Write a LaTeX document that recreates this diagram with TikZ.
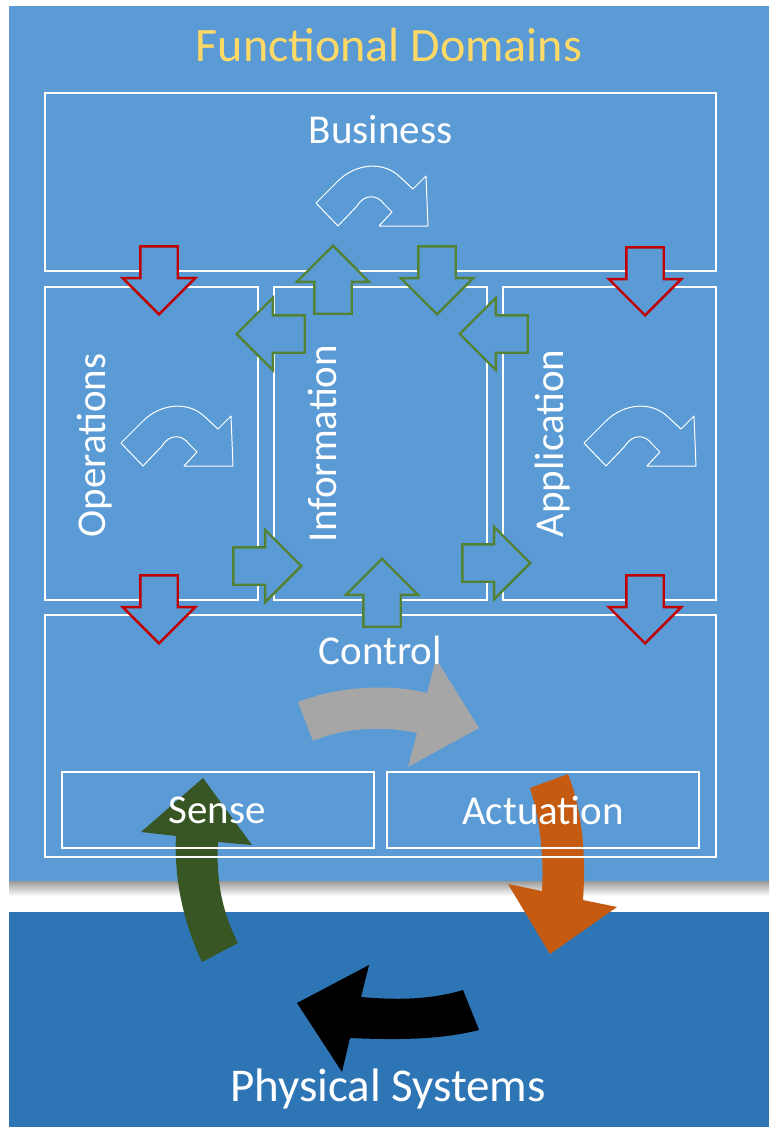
\documentclass[tikz,border=0pt]{standalone}
\usepackage{fontspec}
\setmainfont{Carlito}
\usepackage{tikz}
\usetikzlibrary{shapes.arrows,positioning}
\definecolor{domainBlue}{HTML}{5B9BD5}
\definecolor{physBlue}{HTML}{2E75B6}
\definecolor{titleGold}{HTML}{FFD966}
\definecolor{flowRed}{HTML}{C00000}
\definecolor{flowGreen}{HTML}{548235}
\definecolor{senseGreen}{HTML}{375623}
\definecolor{actOrange}{HTML}{C55A11}
\definecolor{ctrlGray}{HTML}{A6A6A6}

\tikzset{
  domainbox/.style={draw=white,line width=2pt,inner sep=0pt},
  domainlabel/.style={text=white,font=\fontsize{41}{49}\selectfont,inner sep=0pt},
  blockarrow/.style={single arrow,draw=#1,fill=domainBlue,line width=2.4pt,inner sep=0pt,
    text height=35pt,text depth=0pt,minimum height=68pt,single arrow head extend=17.5pt,anchor=tip},
  turn/.pic={
    \draw[white,line width=1pt,line join=round]
      (0,0) -- (22,-22) .. controls (40,-40) and (68,-42) .. (84,-26) -- (97,-14)
      -- (110,-27) -- (112,23) -- (63,23) -- (76,9) -- (68,1)
      .. controls (61,-9) and (48,-9) .. (41,3) -- (22,23) -- cycle;
  }
}

\begin{document}
\begin{tikzpicture}[x=1pt,y=-1pt]
  \useasboundingbox (0,0) rectangle (769,1127);

  % the two layers
  \fill[domainBlue] (9,6) rectangle (769,881);
  \shade[top color=black!40,bottom color=white] (9,881) rectangle (769,896);
  \fill[physBlue] (9,912) rectangle (769,1127);

  % loop between the physical systems and control
  \fill[senseGreen] (202,962) .. controls (182,920) and (174,875) .. (176,836) -- (141,832)
    -- (203,778) -- (252,845) -- (218,842) .. controls (216,880) and (222,912) .. (238,943) -- cycle;
  \fill[actOrange] (530,788) .. controls (540,820) and (544,855) .. (542,891) -- (508,884)
    -- (550,954) -- (617,907) -- (583,900) .. controls (586,858) and (583,812) .. (568,774) -- cycle;
  \fill[black] (463,990) .. controls (430,1000) and (395,1000) .. (361,997) -- (369,965)
    -- (297,1003) -- (342,1072) -- (350,1038) .. controls (395,1040) and (440,1040) .. (479,1030) -- cycle;
  \fill[ctrlGray] (298,702) .. controls (345,684) and (395,685) .. (427,693) -- (436,659)
    -- (479,728) -- (408,767) -- (417,733) .. controls (385,726) and (345,727) .. (313,741) -- cycle;

  \node[domainbox,minimum width=671pt,minimum height=178pt] (business) at (380.5,182) {};
  \node[domainbox,minimum width=213pt,minimum height=313pt] (operations) at (151.5,443.5) {};
  \node[domainbox,minimum width=213pt,minimum height=313pt] (information) at (380.5,443.5) {};
  \node[domainbox,minimum width=213pt,minimum height=313pt] (application) at (609.5,443.5) {};
  \node[domainbox,minimum width=671pt,minimum height=242pt] (control) at (380.5,736) {};
  \node[domainbox,minimum width=312pt,minimum height=76pt] (sense) at (218,810) {};
  \node[domainbox,minimum width=312pt,minimum height=76pt] (actuation) at (543,810) {};

  \node[text=titleGold,font=\fontsize{48}{58}\selectfont] (title) at (389,45) {Functional Domains};
  \node[domainlabel] (businesslbl) at ([yshift=-38pt]business.north) {Business};
  \node[domainlabel,rotate=90] (operationslbl) at ([xshift=-57pt,yshift=-2pt]operations.center) {Operations};
  \node[domainlabel,rotate=90] (informationlbl) at ([xshift=-58pt]information.center) {Information};
  \node[domainlabel,rotate=90] (applicationlbl) at ([xshift=-57pt]application.center) {Application};
  \node[domainlabel] (controllbl) at ([yshift=-36pt]control.north) {Control};
  \node[domainlabel] (senselbl) at ([xshift=-1pt]sense) {Sense};
  \node[domainlabel] (actuationlbl) at (actuation) {Actuation};
  \node[text=white,font=\fontsize{47}{56}\selectfont] (physical) at (388,1089) {Physical Systems};

  % flows between the domains, placed by their tips
  \node[blockarrow=flowRed,rotate=-90] (bizops) at (159,316) {};
  \node[blockarrow=flowRed,rotate=-90] (bizapp) at (645,317) {};
  \node[blockarrow=flowRed,rotate=-90] (opsctl) at (159,645) {};
  \node[blockarrow=flowRed,rotate=-90] (appctl) at (645,645) {};
  \node[blockarrow=flowGreen,rotate=90] (infobiz) at (333,244) {};
  \node[blockarrow=flowGreen,rotate=-90] (bizinfo) at (437,316) {};
  \node[blockarrow=flowGreen,rotate=180] (infoops) at (235,334) {};
  \node[blockarrow=flowGreen,rotate=180] (appinfo) at (458,334) {};
  \node[blockarrow=flowGreen] (opsinfo) at (303,566) {};
  \node[blockarrow=flowGreen] (infoapp) at (532,563) {};
  \node[blockarrow=flowGreen,rotate=90] (ctlinfo) at (382,557) {};

  \pic at (316,203) {turn};
  \pic at (121,443) {turn};
  \pic at (584,443) {turn};
\end{tikzpicture}
\end{document}
